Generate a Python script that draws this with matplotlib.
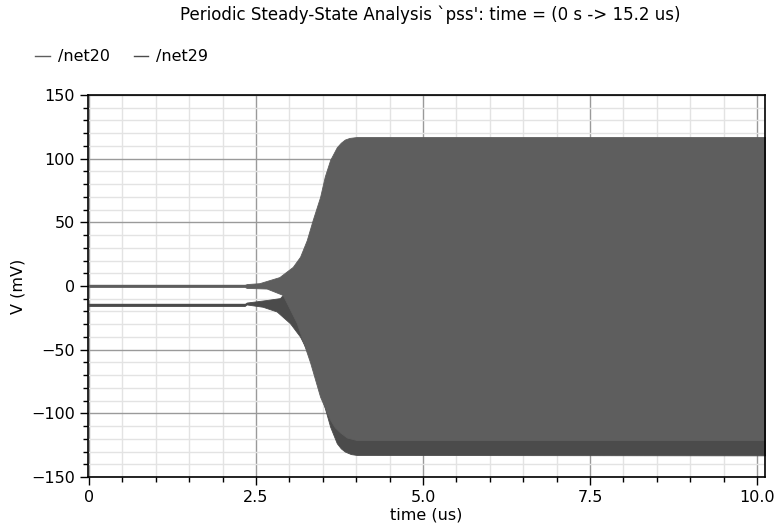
import numpy as np
import matplotlib.pyplot as plt
from matplotlib.ticker import MultipleLocator, FixedLocator

# envelope of the fast oscillation (time in us, V in mV)
t20_up = [0, 2.33, 2.36, 2.55, 2.85, 3.05, 3.16, 3.26, 3.35, 3.46, 3.53, 3.61, 3.66, 3.71, 3.77, 3.83, 3.90, 4.01, 10.12]
v20_up = [0.7, 0.7, 1.5, 2.2, 7, 15, 23, 36, 52, 70, 86, 99, 104, 109, 112.5, 115, 116.3, 117, 117]
t20_lo = [0, 2.33, 2.36, 2.66, 2.90, 3.11, 3.31, 3.46, 3.61, 3.68, 3.76, 3.86, 4.01, 10.12]
v20_lo = [-0.7, -0.7, -1.5, -2.0, -7, -29, -60, -87, -105, -111, -115, -119, -121, -121]

t29_up = [0, 2.33, 2.36, 2.66, 2.86, 2.90, 3.16, 3.35, 3.53, 3.71, 4.01, 10.12]
v29_up = [-14.3, -14.3, -13, -11, -9.5, -7, 10, 40, 70, 95, 105, 105]
t29_lo = [0, 2.33, 2.36, 2.60, 2.81, 3.01, 3.16, 3.31, 3.41, 3.51, 3.61, 3.71, 3.77, 3.83, 3.92, 4.01, 10.12]
v29_lo = [-15.7, -15.7, -14.5, -16.3, -20, -29.3, -39.8, -55.5, -73.8, -92, -110.5, -123.5, -127.5, -130, -132, -132.7, -133]

c20 = "#5e5e5e"
c29 = "#4b4b4b"

fig = plt.figure(figsize=(7.8, 5.31), dpi=100)
ax = fig.add_axes([0.1128, 0.1017, 0.868, 0.7194])

tt = np.linspace(0, 10.12, 3000)
for tu, vu, tl, vl, c in [(t29_up, v29_up, t29_lo, v29_lo, c29),
                          (t20_up, v20_up, t20_lo, v20_lo, c20)]:
    up = np.interp(tt, tu, vu)
    lo = np.interp(tt, tl, vl)
    ax.fill_between(tt, lo, up, color=c, linewidth=0.6, edgecolor=c)

l20, = ax.plot(t20_up[:2], v20_up[:2], color=c20, lw=1.0, label="/net20")
l29, = ax.plot(t29_up[:2], v29_up[:2], color=c29, lw=1.0, label="/net29")

ax.set_xlim(-0.015, 10.12)
ax.set_ylim(-150, 150)
ax.xaxis.set_major_locator(FixedLocator([0, 2.5, 5.0, 7.5, 10.0]))
ax.set_xticklabels(["0", "2.5", "5.0", "7.5", "10.0"])
ax.xaxis.set_minor_locator(MultipleLocator(0.5))
ax.yaxis.set_major_locator(MultipleLocator(50))
ax.yaxis.set_minor_locator(MultipleLocator(10))

ax.set_axisbelow(True)
ax.grid(which="major", color="#9a9a9a", lw=1)
ax.grid(which="minor", color="#e3e3e3", lw=1)
ax.tick_params(which="major", length=6, width=1, labelsize=11.5, direction="out")
ax.tick_params(which="minor", length=3.5, width=1, direction="out")
for s in ax.spines.values():
    s.set_linewidth(1.2)

ax.set_xlabel("time (us)", fontsize=11.5, labelpad=2)
ax.set_ylabel("V (mV)", fontsize=11.5, labelpad=4)

fig.text(0.551, 0.972, "Periodic Steady-State Analysis `pss': time = (0 s -> 15.2 us)",
         ha="center", va="center", fontsize=12)
fig.legend(handles=[l20, l29], loc="center left", bbox_to_anchor=(0.035, 0.893),
           ncol=2, frameon=False, fontsize=11.5, handlelength=0.9, handletextpad=0.5,
           columnspacing=1.5, borderpad=0)

plt.savefig("out.png", dpi=100)
